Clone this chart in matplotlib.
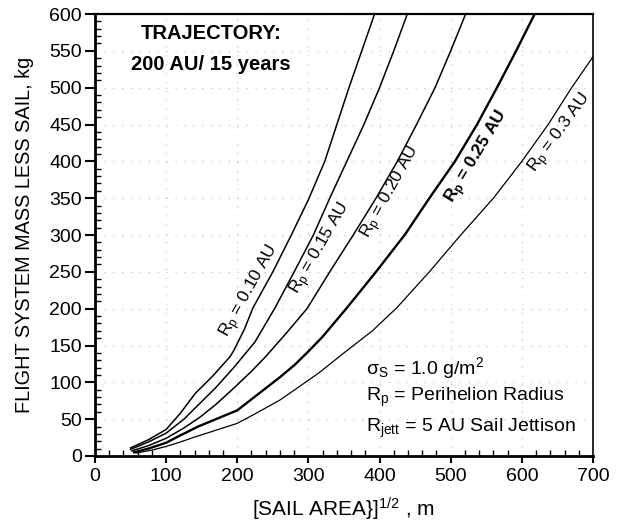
import numpy as np
import matplotlib.pyplot as plt
from matplotlib.ticker import MultipleLocator

plt.rcParams['font.family'] = ['Liberation Sans', 'DejaVu Sans']
plt.rcParams['mathtext.fontset'] = 'custom'
plt.rcParams['mathtext.rm'] = 'Liberation Sans'
plt.rcParams['mathtext.it'] = 'Liberation Sans:italic'

# [sail area]^1/2 (m) vs flight system mass less sail (kg)
x_010 = [50, 75, 100, 120, 141, 165, 190, 195, 210, 222, 250, 276, 300, 323, 340, 357, 375, 393]
y_010 = [11, 22, 36, 58, 85, 108, 135, 143, 172, 201, 250, 300, 348, 400, 450, 500, 550, 600]

x_015 = [50, 75, 100, 125, 148, 170, 195, 225, 253, 280, 307, 330, 354, 378, 400, 420, 439]
y_015 = [9, 19, 31, 50, 72, 93, 120, 155, 201, 250, 300, 350, 400, 450, 500, 550, 600]

x_020 = [52, 75, 100, 125, 148, 170, 195, 220, 240, 270, 298, 330, 363, 395, 425, 452, 478, 500, 521]
y_020 = [7, 14, 24, 38, 53, 70, 92, 115, 135, 168, 200, 250, 300, 350, 400, 450, 500, 550, 600]

x_025 = [55, 75, 100, 120, 145, 170, 200, 220, 240, 260, 281, 300, 320, 354, 395, 436, 470, 506, 537, 565, 592, 618]
y_025 = [5, 10, 18, 28, 40, 50, 62, 77, 92, 107, 124, 142, 162, 201, 250, 301, 350, 400, 450, 500, 550, 600]

x_030 = [58, 80, 100, 120, 141, 170, 199, 215, 234, 260, 281, 315, 350, 390, 424, 470, 515, 560, 600, 637, 670, 700]
y_030 = [4, 8, 13, 19, 26, 35, 44, 52, 62, 76, 90, 113, 140, 170, 201, 250, 301, 350, 400, 450, 500, 542]

curve_x = [x_010, x_015, x_020, x_025, x_030]
curve_y = [y_010, y_015, y_020, y_025, y_030]
curve_lw = [1.1, 1.1, 1.1, 1.7, 0.9]

label_text = ['0.10 AU', '0.15 AU', '0.20 AU', '0.25 AU', '0.3 AU']
label_x = [218, 318, 416, 537, 654]
label_y = [224, 282, 358, 406, 438]
label_rot = [61, 60, 61, 59, 54]

fig = plt.figure(figsize=(6.24, 5.29), dpi=100)
ax = fig.add_axes([0.1522, 0.138, 0.7981, 0.8355])

for xs, ys, lw in zip(curve_x, curve_y, curve_lw):
    ax.plot(xs, ys, color='black', lw=lw)

for t, lx, ly, r in zip(label_text, label_x, label_y, label_rot):
    w = 'bold' if t == '0.25 AU' else 'normal'
    ax.text(lx, ly, r'R$_\mathregular{p}$ = ' + t, rotation=r, fontsize=12.5,
            ha='center', va='center', fontweight=w, rotation_mode='anchor')

ax.set_xlim(0, 700)
ax.set_ylim(0, 600)
ax.xaxis.set_major_locator(MultipleLocator(100))
ax.xaxis.set_minor_locator(MultipleLocator(20))
ax.yaxis.set_major_locator(MultipleLocator(50))
ax.yaxis.set_minor_locator(MultipleLocator(10))
ax.tick_params(which='major', direction='out', width=1.5, labelsize=14)
ax.tick_params(axis='x', which='major', length=5)
ax.tick_params(axis='y', which='major', length=7.5, pad=2)
ax.tick_params(which='minor', direction='in', length=4, width=1.0)

ax.grid(True, which='major', color='#bbbbbb', linestyle=(0, (1, 7)), lw=0.8)

ax.spines['left'].set_linewidth(2)
ax.spines['bottom'].set_linewidth(2)
ax.spines['top'].set_linewidth(1.6)
ax.spines['right'].set_linewidth(1.2)

ax.set_ylabel('FLIGHT SYSTEM MASS LESS SAIL, kg', fontsize=14.3, labelpad=11)
ax.set_xlabel(r'[SAIL AREA}]$^{1/2}$ , m', fontsize=15, labelpad=8)

ax.text(163, 574, 'TRAJECTORY:', fontsize=14.5, fontweight='bold', ha='center', va='center')
ax.text(163, 531, '200 AU/ 15 years', fontsize=14.5, fontweight='bold', ha='center', va='center')

ax.text(381, 119, r'σ$_\mathregular{S}$ = 1.0 g/m$^2$', fontsize=14, va='center')
ax.text(381, 79, r'R$_\mathregular{p}$ = Perihelion Radius', fontsize=14, va='center')
ax.text(381, 38, r'R$_\mathregular{jett}$ = 5 AU Sail Jettison', fontsize=14, va='center')

fig.savefig('out.png', dpi=100)
